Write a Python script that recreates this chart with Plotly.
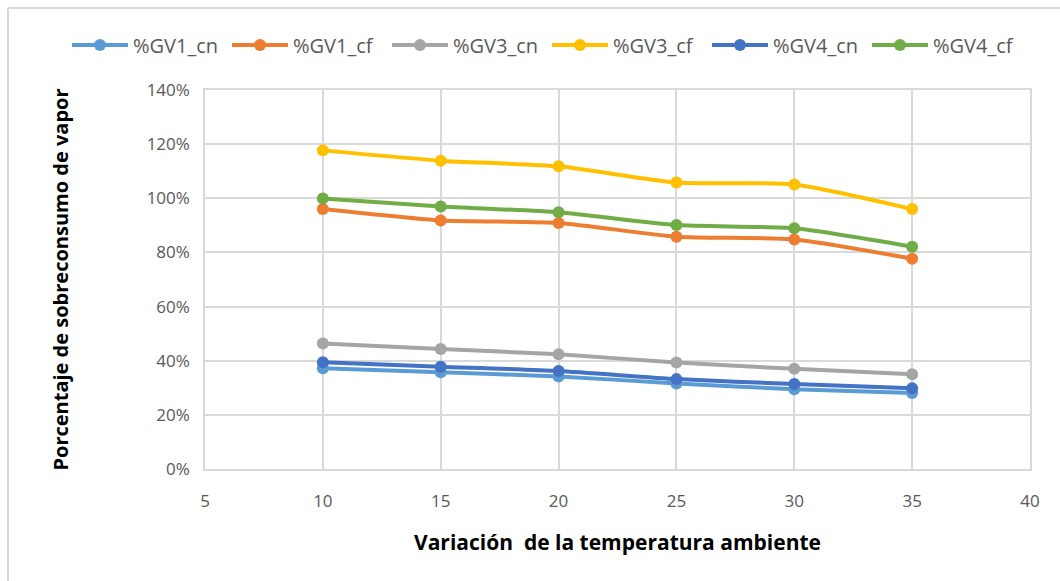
import plotly.graph_objects as go

temps = [10, 15, 20, 25, 30, 35]
gv1_cn = [0.372, 0.357, 0.342, 0.316, 0.295, 0.281]
gv1_cf = [0.960, 0.918, 0.909, 0.858, 0.848, 0.777]
gv3_cn = [0.464, 0.443, 0.424, 0.393, 0.370, 0.350]
gv3_cf = [1.177, 1.139, 1.118, 1.058, 1.051, 0.960]
gv4_cn = [0.394, 0.378, 0.362, 0.332, 0.314, 0.298]
gv4_cf = [0.999, 0.970, 0.948, 0.901, 0.889, 0.821]

series = [
    ("%GV1_cn", gv1_cn, "#5B9BD5"),
    ("%GV1_cf", gv1_cf, "#ED7D31"),
    ("%GV3_cn", gv3_cn, "#A5A5A5"),
    ("%GV3_cf", gv3_cf, "#FFC000"),
    ("%GV4_cn", gv4_cn, "#4472C4"),
    ("%GV4_cf", gv4_cf, "#70AD47"),
]

fig = go.Figure()
for name, vals, color in series:
    fig.add_trace(go.Scatter(
        x=temps, y=vals, name=name, mode="lines+markers",
        line=dict(color=color, width=4, shape="spline", smoothing=0.6),
        marker=dict(color=color, size=12),
    ))

grid = "#D9D9D9"
fig.update_layout(
    width=1060, height=581,
    margin=dict(l=205, r=30, t=90, b=112, autoexpand=False),
    paper_bgcolor="white", plot_bgcolor="white",
    font=dict(family="Open Sans, Liberation Sans, sans-serif", color="#595959", size=16),
    legend=dict(orientation="h", x=(67 - 205) / 825, xanchor="left",
                y=(469 - 45) / 379, yanchor="middle",
                font=dict(size=20, color="#595959"), itemwidth=56, tracegroupgap=0,
                entrywidth=89),
    xaxis=dict(range=[5, 40], dtick=5, tick0=5, showgrid=True, gridcolor=grid, gridwidth=1.5,
               showline=True, linecolor=grid, linewidth=1.5, mirror=True, zeroline=False,
               ticks="", tickfont=dict(size=17, color="#595959"), ticklabelstandoff=16,
               title=dict(text="<b>Variación  de la temperatura ambiente</b>",
                          font=dict(size=21, color="black", family="Open Sans, sans-serif"),
                          standoff=24)),
    yaxis=dict(range=[0, 1.4], dtick=0.2, tickformat=".0%", showgrid=True, gridcolor=grid,
               gridwidth=1.5, showline=True, linecolor=grid, linewidth=1.5, mirror=True,
               zeroline=False, ticks="", tickfont=dict(size=17, color="#595959"),
               ticklabelstandoff=10,
               title=dict(text="<b>Porcentaje de sobreconsumo de vapor</b>",
                          font=dict(size=20, color="black", family="Open Sans, sans-serif"),
                          standoff=73)),
)

# chart area border (top and left edges visible)
fig.add_shape(type="line", xref="paper", yref="paper",
              x0=(8 - 205) / 825, x1=(1070 - 205) / 825,
              y0=(469 - 8) / 379, y1=(469 - 8) / 379,
              line=dict(color=grid, width=2))
fig.add_shape(type="line", xref="paper", yref="paper",
              x0=(8 - 205) / 825, x1=(8 - 205) / 825,
              y0=(469 - 8) / 379, y1=(469 - 600) / 379,
              line=dict(color=grid, width=2))

fig.write_html("out.html")
